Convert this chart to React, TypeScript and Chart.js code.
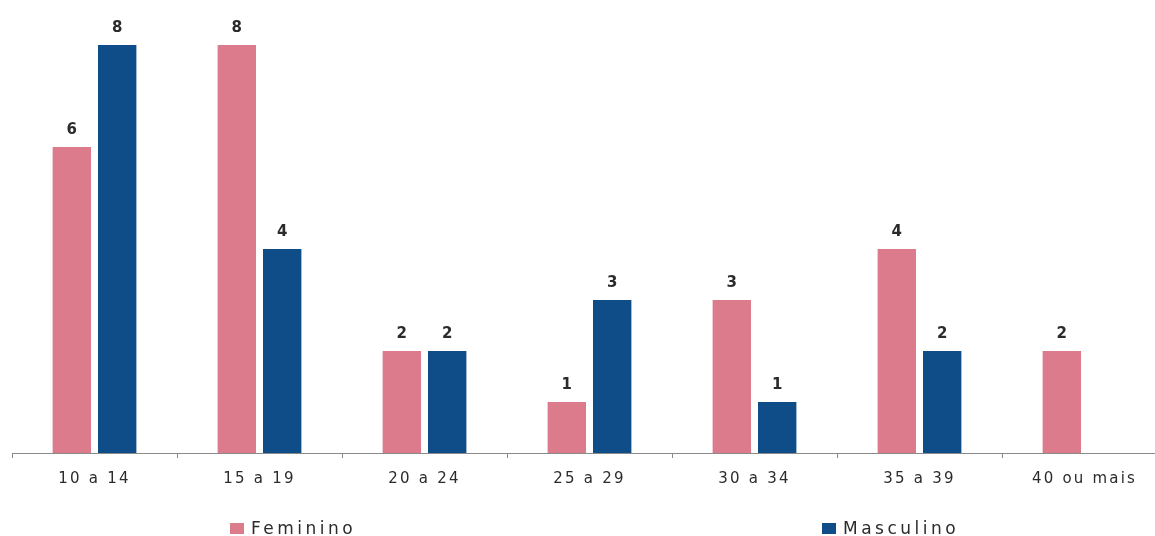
import React, { useEffect, useRef } from "react";
import { Chart, registerables } from "chart.js";

Chart.register(...registerables);

const categories = ["10 a 14", "15 a 19", "20 a 24", "25 a 29", "30 a 34", "35 a 39", "40 ou mais"];
const feminino = [6, 8, 2, 1, 3, 4, 2];
const masculino: (number | null)[] = [8, 4, 2, 3, 1, 2, null];
const seriesNames = ["Feminino", "Masculino"];
const seriesColors = ["#db7b8c", "#0f4d88"];

const FONT = "'DejaVu Sans', Verdana, sans-serif";

const valueLabels = {
  id: "valueLabels",
  afterDatasetsDraw(chart: any) {
    const ctx = chart.ctx;
    ctx.save();
    ctx.letterSpacing = "0px";
    ctx.font = `bold 15px ${FONT}`;
    ctx.fillStyle = "#2b2b2b";
    ctx.textAlign = "center";
    ctx.textBaseline = "alphabetic";
    chart.data.datasets.forEach((ds: any, i: number) => {
      const meta = chart.getDatasetMeta(i);
      meta.data.forEach((el: any, j: number) => {
        const v = ds.data[j];
        if (v === null || v === undefined) return;
        ctx.fillText(String(v), el.x, el.y - 13);
      });
    });
    ctx.restore();
  },
};

const spacedText = {
  id: "spacedText",
  beforeDraw(chart: any) {
    chart.ctx.letterSpacing = "2.2px";
  },
};

const bottomLegend = {
  id: "bottomLegend",
  afterDraw(chart: any) {
    const ctx = chart.ctx;
    const area = chart.chartArea;
    const offsets = [218, 810];
    ctx.save();
    ctx.letterSpacing = "3.5px";
    ctx.font = `17px ${FONT}`;
    ctx.textBaseline = "alphabetic";
    ctx.textAlign = "left";
    chart.data.datasets.forEach((ds: any, i: number) => {
      const x = area.left + offsets[i];
      const y = 523;
      ctx.fillStyle = ds.backgroundColor;
      ctx.fillRect(x, y, 14, 11);
      ctx.fillStyle = "#2b2b2b";
      ctx.fillText(ds.label, x + 21, 534);
    });
    ctx.restore();
  },
};

export default function App() {
  const ref = useRef<HTMLCanvasElement | null>(null);
  useEffect(() => {
    if (!ref.current) return;
    const chart = new Chart(ref.current, {
      type: "bar",
      data: {
        labels: categories,
        datasets: [
          {
            label: seriesNames[0],
            data: feminino,
            backgroundColor: seriesColors[0],
            categoryPercentage: 0.55,
            barPercentage: 0.846,
          },
          {
            label: seriesNames[1],
            data: masculino,
            backgroundColor: seriesColors[1],
            categoryPercentage: 0.55,
            barPercentage: 0.846,
          },
        ],
      },
      options: {
        animation: false,
        responsive: false,
        maintainAspectRatio: false,
        layout: { padding: { top: 45, left: 12, right: 3, bottom: 36 } },
        plugins: {
          legend: { display: false },
          tooltip: { enabled: false },
        },
        scales: {
          x: {
            offset: true,
            border: { display: true, color: "#8a8a8a", width: 1 },
            grid: {
              offset: true,
              drawOnChartArea: false,
              drawTicks: true,
              tickLength: 5,
              color: "#8a8a8a",
            },
            ticks: {
              color: "#2b2b2b",
              padding: 12,
              maxRotation: 0,
              autoSkip: false,
              font: { family: FONT, size: 15 },
            },
          },
          y: {
            display: false,
            min: 0,
            max: 8,
          },
        },
      },
      plugins: [spacedText, valueLabels, bottomLegend],
    });
    return () => chart.destroy();
  }, []);
  return (
    <div style={{ position: "fixed", left: 0, top: 0, width: 1170, height: 536, background: "#fff" }}>
      <canvas ref={ref} width={1170} height={536} style={{ width: 1170, height: 536 }} />
    </div>
  );
}
